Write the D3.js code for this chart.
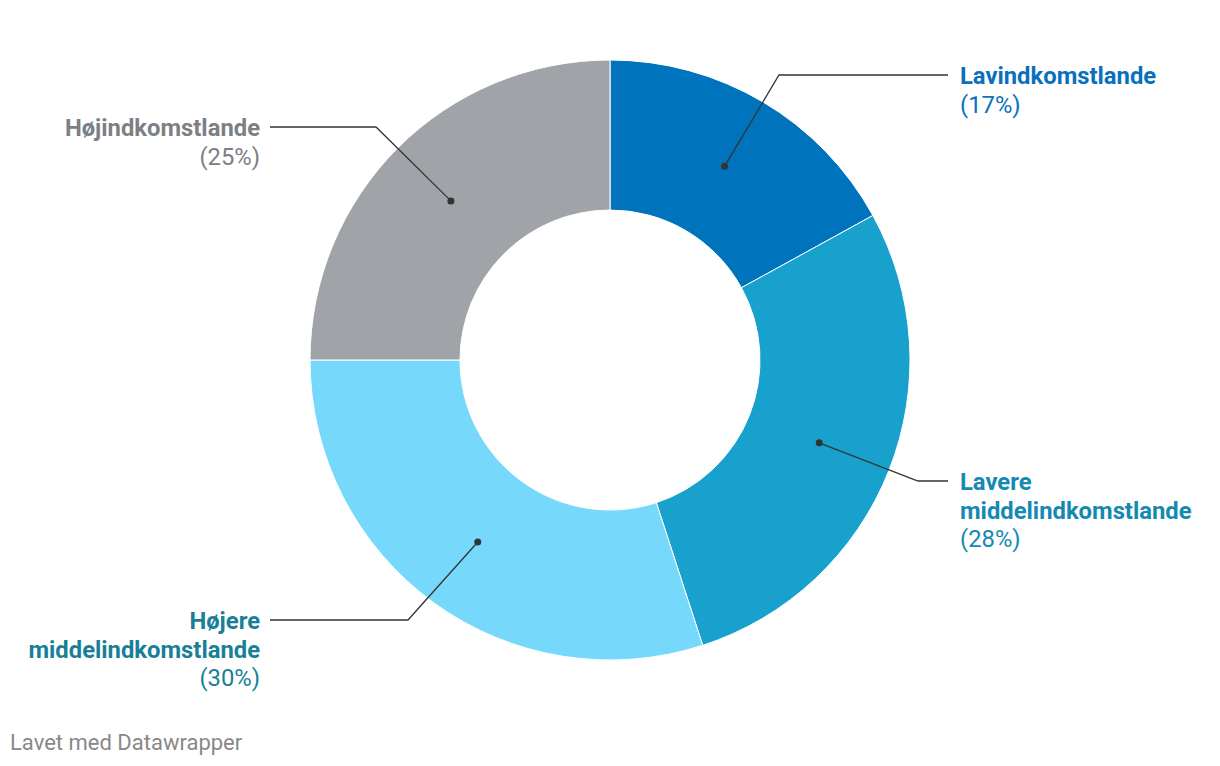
<!DOCTYPE html>
<html><head><meta charset="utf-8">
<script src="https://cdn.jsdelivr.net/npm/d3@7"></script>
<style>
body{margin:0;background:#fff;}
svg{display:block;font-family:Roboto,sans-serif;}
</style></head>
<body><svg id="c" width="1220" height="766"></svg>
<script>
const categories = ["Lavindkomstlande", "Lavere middelindkomstlande", "Højere middelindkomstlande", "Højindkomstlande"];
const values = [17, 28, 30, 25];
const fillColors = ["#0073bd", "#18a1cd", "#76d9fb", "#a0a4a8"];
const labelColors = ["#0a70bb", "#1489b2", "#197f98", "#7c8084"];
const labelLines = [["Lavindkomstlande"], ["Lavere", "middelindkomstlande"], ["Højere", "middelindkomstlande"], ["Højindkomstlande"]];
const pctLabels = ["(17%)", "(28%)", "(30%)", "(25%)"];
// label anchor: elbow point and text position
const labelLayout = [
  {elbow:[779,75], end:[948,75], tx:960, ty:84, anchor:"start"},
  {elbow:[918,481], end:[948,481], tx:960, ty:490, anchor:"start"},
  {elbow:[408,620], end:[270,620], tx:260, ty:629, anchor:"end"},
  {elbow:[376,127], end:[270,127], tx:260, ty:136, anchor:"end"}
];

const svg = d3.select("#c");
const cx = 610, cy = 360, rO = 300, rI = 150, rDot = 225;
const g = svg.append("g").attr("transform", `translate(${cx},${cy})`);
const pie = d3.pie().sort(null).value(d => d)(values);
const arc = d3.arc().innerRadius(rI).outerRadius(rO);
g.selectAll("path").data(pie).join("path")
  .attr("d", arc).attr("fill", (d,i) => fillColors[i])
  .attr("stroke", "#fff").attr("stroke-width", 1);

const dotArc = d3.arc().innerRadius(rDot).outerRadius(rDot);
pie.forEach((d,i) => {
  const [x,y] = dotArc.centroid(d);
  const L = labelLayout[i];
  svg.append("polyline")
    .attr("points", `${cx+x},${cy+y} ${L.elbow[0]},${L.elbow[1]} ${L.end[0]},${L.end[1]}`)
    .attr("fill","none").attr("stroke","#333").attr("stroke-width",1.3);
  svg.append("circle").attr("cx",cx+x).attr("cy",cy+y).attr("r",3.5).attr("fill","#333");
  const t = svg.append("text").attr("x",L.tx).attr("y",L.ty).attr("text-anchor",L.anchor)
    .attr("fill",labelColors[i]).attr("font-size",23.8);
  labelLines[i].forEach((ln,j) => {
    t.append("tspan").attr("x",L.tx).attr("dy", j===0?0:28.5).attr("font-weight",700).text(ln);
  });
  t.append("tspan").attr("x",L.tx).attr("dy",28.5).attr("font-weight",400).text(pctLabels[i]);
});

svg.append("text").attr("x",10).attr("y",750).attr("fill","#888").attr("font-size",22)
  .text("Lavet med Datawrapper");
</script></body></html>
